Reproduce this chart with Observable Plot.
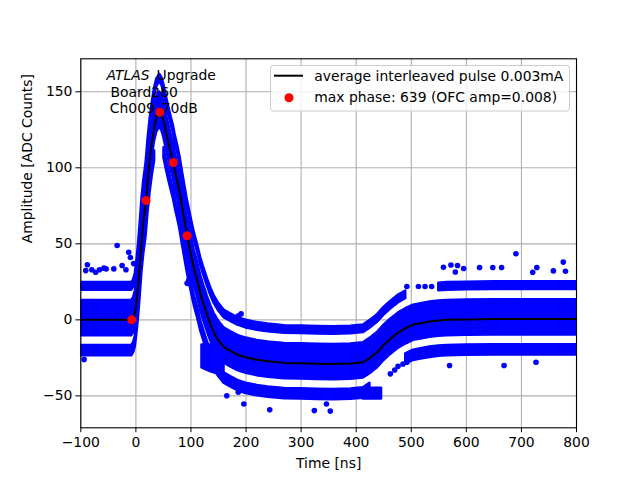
<!DOCTYPE html>
<html><head><meta charset="utf-8">
<script src="https://cdn.jsdelivr.net/npm/d3@7"></script>
<script src="https://cdn.jsdelivr.net/npm/@observablehq/plot@0.6"></script>
<style>html,body{margin:0;padding:0;background:#fff}</style>
</head><body><div id="chart"></div>
<script>
// average interleaved pulse (time [ns], amplitude [ADC counts])
const pulseT = [-100,-60,-30,-15,-7.5,-4,-1,2,5,8,11,14,18.5,22,26,30,34,38,43.3,47,51,55,60,64,68,72,76,80,85,93,100,106,112,118,124,130,136,142,150,160,172,185,200,220,240,270,300,330,360,390,413,425,438,450,462,477,490,504,520,534,550,565,600,650,700,750,800];
const pulseV = [0,0,0,0,0,2,6,15,26,40,55,66,78.5,94,108,119,128,134,137,135,130,123,115,109,103.5,96,90,83,72,55.3,43,33,25,16,9,2.5,-3.5,-8.5,-13.5,-18,-20.5,-23,-24.8,-26.3,-27.3,-28.3,-28.5,-28.8,-29,-28.7,-27.9,-25,-21.3,-16.5,-12.5,-8.2,-5.5,-3.1,-2,-1.1,-0.4,0,0.3,0.5,0.5,0.5,0.5];

// max-phase samples (red)
const phaseT = [-7.5,18.5,43.3,68,93];
const phaseV = [0,78.5,136.6,103.5,55.3];

// dense sample bands, as offsets from the average pulse, with their time ranges
const bandLo   = [-10.4, 19.5, 19.5, -23.6, -23.6, -23.6];
const bandHi   = [12.8, 24.5, 24.5, -16.8, -16.8, -16.8];
const bandFrom = [-100, -100, 550, -100, 51, 490];
const bandTo   = [800, 490, 800, 34, 425, 800];

// dense sample clusters read directly in amplitude
const clusterId = [0, 0, 0, 1, 1];
const clusterT  = [120, 135, 160, 413, 446];
const clusterLo = [-31.5, -34, -37, -52, -52];
const clusterHi = [-16.5, -16.5, -17, -45, -45];

// isolated samples outside the dense bands
const outT = [-91,-88,-80,-73,-66,-58,-54,-40,-34,-25,-18,-13,-10,-4,-94,93,96,168,186,191,165,186,196,243,324,346,353,462,470,476,485,492,513,525,537,558.5,572,584,580,595,624,648,664,690,720.5,728,758,776,780,492,569.5,668.5,726.5];
const outV = [32.4,36.2,33,31.3,33,34,33.5,33.5,48.9,35.7,33,44.5,41,37,-26,24,26,2.8,2.6,3.9,-50,-47.6,-55.3,-59.2,-59.7,-55.3,-60,-35.5,-33,-30.5,-29,21.9,21.9,21.9,21.9,34.6,36.1,35.7,31.5,33.8,34.4,34.4,34.4,43.5,31.3,34.4,32.2,38,32,-27.9,-30,-30,-27.9];

const xTicks = [-100,0,100,200,300,400,500,600,700,800];
const yTicks = [-50,0,50,100,150];
const legendLabels = ["average interleaved pulse 0.003mA", "max phase: 639 (OFC amp=0.008)"];
const noteLines = ["ATLAS", "Upgrade", "Board260", "Ch009_70dB"];

const pulse = pulseT.map((t, i) => ({t, v: pulseV[i]}));
const phases = phaseT.map((t, i) => ({t, v: phaseV[i]}));
const outliers = outT.map((t, i) => ({t, v: outV[i]}));
const bands = [];
bandLo.forEach((lo, b) => {
  pulse.forEach(p => {
    if (p.t >= bandFrom[b] && p.t <= bandTo[b]) bands.push({band: "b" + b, t: p.t, y1: p.v + lo, y2: p.v + bandHi[b]});
  });
});
clusterT.forEach((t, i) => bands.push({band: "c" + clusterId[i], t, y1: clusterLo[i], y2: clusterHi[i]}));

const FS = 13.9;
const plot = Plot.plot({
  width: 640, height: 480,
  marginLeft: 80.3, marginRight: 64, marginTop: 58.3, marginBottom: 52.7,
  style: {fontFamily: "DejaVu Sans", fontSize: FS + "px", background: "white", color: "black"},
  x: {domain: [-100, 800]},
  y: {domain: [-71, 171.7]},
  marks: [
    Plot.gridX({ticks: xTicks, stroke: "#b0b0b0", strokeOpacity: 1, strokeWidth: 1.1}),
    Plot.gridY({ticks: yTicks, stroke: "#b0b0b0", strokeOpacity: 1, strokeWidth: 1.1}),
    Plot.areaY(bands, {x: "t", y1: "y1", y2: "y2", z: "band", fill: "blue", stroke: "blue", strokeWidth: 2.5, strokeLinejoin: "round", clip: true}),
    Plot.dot(outliers, {x: "t", y: "v", r: 2.8, fill: "blue", clip: true}),
    Plot.line(pulse, {x: "t", y: "v", stroke: "black", strokeWidth: 2, clip: true}),
    Plot.text([noteLines[0]], {text: d => d, frameAnchor: "top-left", dx: 25.7, dy: 20.7, lineAnchor: "bottom", textAnchor: "start", fontStyle: "italic", fill: "black"}),
    Plot.text([noteLines[1]], {text: d => d, frameAnchor: "top-left", dx: 75.7, dy: 20.7, lineAnchor: "bottom", textAnchor: "start", fill: "black"}),
    Plot.text([noteLines[2]], {text: d => d, frameAnchor: "top-left", dx: 29.7, dy: 38.4, lineAnchor: "bottom", textAnchor: "start", fill: "black"}),
    Plot.text([noteLines[3]], {text: d => d, frameAnchor: "top-left", dx: 29, dy: 54, lineAnchor: "bottom", textAnchor: "start", fill: "black"}),
    Plot.dot(phases, {x: "t", y: "v", r: 4.5, fill: "red"}),
    Plot.frame({stroke: "black", strokeWidth: 1.1}),
    Plot.axisX({ticks: xTicks, tickSize: 4.9, tickPadding: 4.9, label: null}),
    Plot.axisY({ticks: yTicks, tickSize: 4.9, tickPadding: 3.5, label: null}),
    Plot.text(["Time [ns]"], {text: d => d, frameAnchor: "bottom", dy: 36, lineAnchor: "middle", fill: "black"}),
    Plot.text(["Amplitude [ADC Counts]"], {text: d => d, frameAnchor: "left", dx: -52.8, rotate: -90, lineAnchor: "middle", fill: "black"})
  ]
});

const svg = d3.select(plot);
const g = svg.append("g").attr("font-family", "DejaVu Sans").attr("font-size", FS + "px").attr("text-anchor", "start");
g.append("rect").attr("x", 270.5).attr("y", 65.5).attr("width", 299).attr("height", 45.5).attr("rx", 2.8)
  .attr("fill", "white").attr("fill-opacity", 0.8).attr("stroke", "#cccccc").attr("stroke-width", 1);
g.append("line").attr("x1", 274).attr("x2", 303).attr("y1", 75.7).attr("y2", 75.7).attr("stroke", "black").attr("stroke-width", 2);
g.append("circle").attr("cx", 289).attr("cy", 97.7).attr("r", 4.5).attr("fill", "red");
g.append("text").attr("x", 314.3).attr("y", 80.7).attr("fill", "black").attr("text-anchor", "start").text(legendLabels[0]);
g.append("text").attr("x", 314.3).attr("y", 102.2).attr("fill", "black").attr("text-anchor", "start").text(legendLabels[1]);

document.getElementById("chart").appendChild(plot);
</script>
</body></html>
